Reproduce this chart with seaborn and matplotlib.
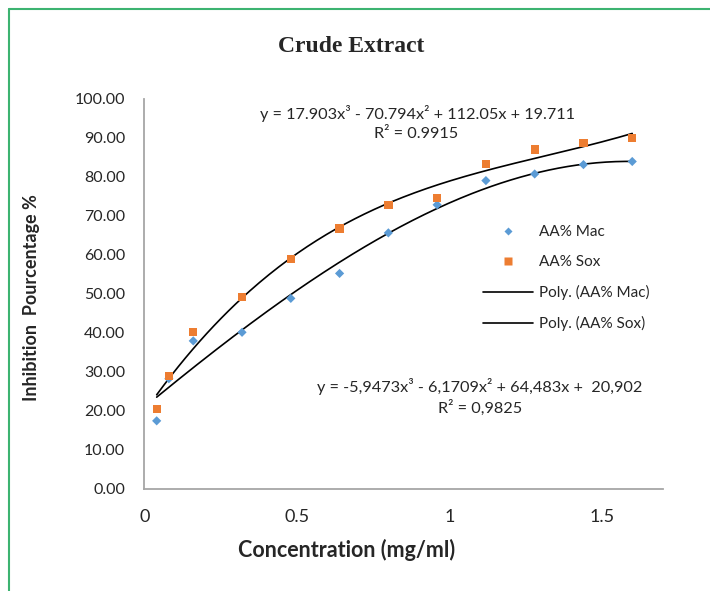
import numpy as np
import pandas as pd
import matplotlib
matplotlib.use("Agg")
import matplotlib.pyplot as plt
import seaborn as sns
from matplotlib.lines import Line2D

# data
conc = [0.04, 0.08, 0.16, 0.32, 0.48, 0.64, 0.80, 0.96, 1.12, 1.28, 1.44, 1.60]
aa_mac = [17.4, 28.2, 37.9, 40.1, 48.8, 55.2, 65.6, 72.8, 79.0, 80.7, 83.1, 83.9]
aa_sox = [20.4, 28.9, 40.2, 49.2, 58.9, 66.7, 72.8, 74.6, 83.3, 87.0, 88.6, 90.0]

# trend line coefficients as printed on the chart (x^3, x^2, x, 1)
coef_sox = [17.903, -70.794, 112.05, 19.711]
coef_mac = [-5.9473, -6.1709, 64.483, 20.902]
eq_sox = "y = 17.903x³ - 70.794x² + 112.05x + 19.711"
r2_sox = "R² = 0.9915"
eq_mac = "y = -5,9473x³ - 6,1709x² + 64,483x +  20,902"
r2_mac = "R² = 0,9825"

yticks = [0, 10, 20, 30, 40, 50, 60, 70, 80, 90, 100]
xticks = [0, 0.5, 1, 1.5]

sns.set_style("white")
plt.rcParams['font.family'] = ['Lato', 'DejaVu Sans']

df = pd.DataFrame({'conc': conc, 'mac': aa_mac, 'sox': aa_sox})
xs = np.linspace(min(conc), max(conc), 200)
fit = pd.DataFrame({'x': xs, 'mac': np.polyval(coef_mac, xs), 'sox': np.polyval(coef_sox, xs)})

fig = plt.figure(figsize=(7.1, 5.91), dpi=100)
ax = fig.add_axes([0.2035, 0.1731, 0.7299, 0.6599])

sns.lineplot(data=fit, x='x', y='mac', color='black', lw=1.2, ax=ax)
sns.lineplot(data=fit, x='x', y='sox', color='black', lw=1.2, ax=ax)
sns.scatterplot(data=df, x='conc', y='mac', marker='D', s=22, color='#5b9bd5',
                edgecolor='none', ax=ax, zorder=3)
sns.scatterplot(data=df, x='conc', y='sox', marker='s', s=36, color='#ed7d31',
                edgecolor='none', ax=ax, zorder=3)

ax.set_xlim(0, 1.7)
ax.set_ylim(0, 100)
ax.set_xticks(xticks)
ax.set_xticklabels(['0', '0.5', '1', '1.5'])
ax.set_yticks(yticks)
ax.set_yticklabels([f"{v:.2f}" for v in yticks])
ax.tick_params(axis='x', direction='inout', length=9, width=1, color='#a6a6a6',
               pad=10, labelsize=13)
ax.tick_params(axis='y', length=0, pad=14, labelsize=11.5)

for s in ['top', 'right']:
    ax.spines[s].set_visible(False)
for s in ['left', 'bottom']:
    ax.spines[s].set_color('#a6a6a6')
    ax.spines[s].set_linewidth(1.3)

ax.set_xlabel('Concentration (mg/ml)', fontsize=15.5, fontweight='bold')
ax.set_ylabel('Inhibition  Pourcentage %', fontsize=13, fontweight='bold')
ax.xaxis.set_label_coords(0.389, -0.128)
ax.yaxis.set_label_coords(-0.2017, 0.49)

ax.text(0.526, 0.963, eq_sox, transform=ax.transAxes, ha='center', va='center', fontsize=11.7)
ax.text(0.524, 0.910, r2_sox, transform=ax.transAxes, ha='center', va='center', fontsize=11.7)
ax.text(0.647, 0.261, eq_mac, transform=ax.transAxes, ha='center', va='center', fontsize=11.7)
ax.text(0.647, 0.207, r2_mac, transform=ax.transAxes, ha='center', va='center', fontsize=11.7)

handles = [
    Line2D([], [], ls='none', marker='D', ms=4.5, color='#5b9bd5', mec='none'),
    Line2D([], [], ls='none', marker='s', ms=6, color='#ed7d31', mec='none'),
    Line2D([], [], color='black', lw=1.2),
    Line2D([], [], color='black', lw=1.2),
]
labels = ['AA% Mac', 'AA% Sox', 'Poly. (AA% Mac)', 'Poly. (AA% Sox)']
ax.legend(handles, labels, loc='upper left', bbox_to_anchor=(0.653, 0.676),
          frameon=False, fontsize=11, handlelength=3.3, handletextpad=0.35,
          labelspacing=1.05, borderpad=0, borderaxespad=0)

fig.text(351 / 710, 1 - 47 / 591, 'Crude Extract', ha='center', va='center',
         fontsize=17, fontweight='bold', family='Liberation Serif')

# green frame on the left and top edges
green = '#3cb371'
fig.add_artist(Line2D([8.7 / 710, 8.7 / 710], [0, 1 - 9.3 / 591], color=green, lw=1.5,
                      transform=fig.transFigure))
fig.add_artist(Line2D([8.7 / 710, 1], [1 - 9.3 / 591, 1 - 9.3 / 591], color=green, lw=1.5,
                      transform=fig.transFigure))

fig.savefig('out.png', dpi=100)
